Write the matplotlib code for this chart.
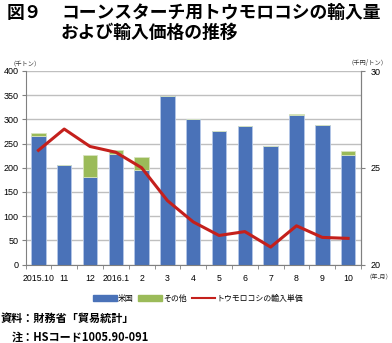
import matplotlib
matplotlib.use("Agg")
import matplotlib.pyplot as plt
from matplotlib.patches import Patch
from matplotlib.lines import Line2D
import numpy as np

plt.rcParams['font.family'] = ['Noto Sans CJK JP', 'DejaVu Sans']

months = ['2015.10', '11', '12', '2016.1', '2', '3', '4', '5', '6', '7', '8', '9', '10']
usa = [265, 205, 180, 228, 196, 349, 301, 276, 286, 245, 310, 288, 226]
other = [6, 0, 46, 8, 27, 0, 0, 0, 0, 0, 2, 0, 8]
price = [25.9, 27.0, 26.1, 25.8, 25.0, 23.3, 22.2, 21.5, 21.7, 20.9, 22.0, 21.4, 21.35]

blue = '#4A72B8'
green = '#9BBB59'
red = '#C4201C'
grid = '#BFBFBF'
num_font = ['Liberation Sans']

fig = plt.figure(figsize=(3.92, 3.43), dpi=100)
ax = fig.add_axes([25.5/392, 1-264.5/343, (361-25.5)/392, (264.5-71)/343])

x = np.arange(len(months))
ax.bar(x, usa, width=0.56, color=blue, edgecolor='#B4C7E7', linewidth=0.6, zorder=2)
ax.bar(x, other, width=0.56, bottom=usa, color=green, edgecolor='#D7E4BD', linewidth=0.6, zorder=2)
ax.set_ylim(0, 400)
ax.set_xlim(-0.5, len(months) - 0.5)
ax.set_yticks(range(0, 401, 50))
ax.yaxis.grid(True, color=grid, linewidth=1.0, zorder=0)
ax.set_axisbelow(True)
ax.set_xticks(x)
ax.set_xticklabels(months, fontsize=6.3, family=num_font)
ax.tick_params(axis='x', length=0, pad=7)
ax.set_xticks(np.arange(-0.5, len(months), 1), minor=True)
ax.tick_params(axis='x', which='minor', length=3, color='#808080')
ax.tick_params(axis='y', labelsize=6.5, length=3, color='#808080', pad=2)
for lab in ax.get_yticklabels():
    lab.set_family(num_font)
ax.spines['top'].set_visible(False)
for s in ['left', 'bottom', 'right']:
    ax.spines[s].set_color('#808080')

ax2 = ax.twinx()
ax2.plot(x, price, color=red, linewidth=2.2, zorder=3)
ax2.set_ylim(20, 30)
ax2.set_yticks([20, 25, 30])
ax2.tick_params(axis='y', labelsize=6.5, length=3, color='#808080', pad=4)
for lab in ax2.get_yticklabels():
    lab.set_family(num_font)
ax2.spines['top'].set_visible(False)
ax2.spines['right'].set_color('#808080')
ax2.spines['left'].set_visible(False)
ax2.spines['bottom'].set_visible(False)

fig.text(7/392, 1-13/343, '図９', fontsize=12.8, fontweight='bold', va='center')
fig.text(61/392, 1-13/343, 'コーンスターチ用トウモロコシの輸入量', fontsize=12.8, fontweight='bold', va='center')
fig.text(61/392, 1-33/343, 'および輸入価格の推移', fontsize=12.8, fontweight='bold', va='center')

fig.text(10/392, 1-63/343, '（千トン）', fontsize=4.5, va='center', color='#333333')
fig.text(388/392, 1-63/343, '（千円/トン）', fontsize=4.5, va='center', ha='right', color='#333333')
fig.text(366/392, 1-277/343, '（年.月）', fontsize=4.5, va='center', color='#333333')

handles = [Patch(color=blue), Patch(color=green), Line2D([0], [0], color=red, linewidth=1.5)]
fig.legend(handles, ['米国', 'その他', 'トウモロコシの輸入単価'], loc='center',
           bbox_to_anchor=(198/392, 1-298/343), ncol=3, frameon=False, fontsize=5.7,
           handlelength=3.0, handleheight=0.7, columnspacing=0.6, handletextpad=0.15)

fig.text(1/392, 1-318/343, '資料：財務省「貿易統計」', fontsize=8, fontweight='bold', va='center')
fig.text(12/392, 1-337/343, '注：HSコード1005.90-091', fontsize=8, fontweight='bold', va='center')

fig.savefig('out.png', dpi=100)
